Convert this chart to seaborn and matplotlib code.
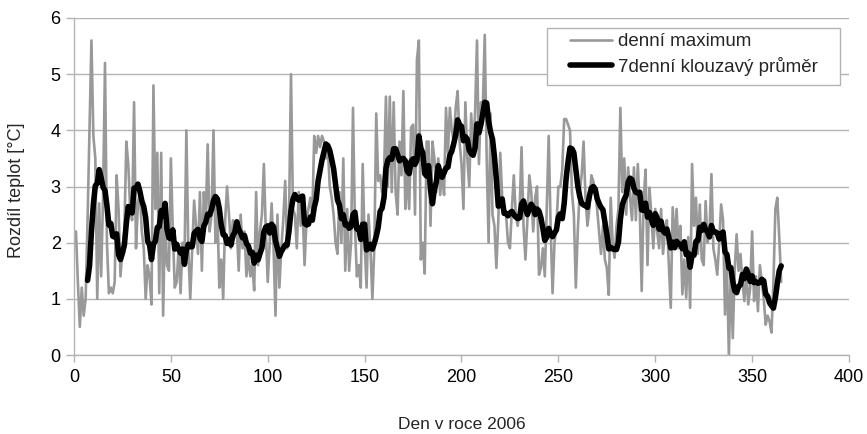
import numpy as np
import pandas as pd
import matplotlib
matplotlib.use("Agg")
import matplotlib.pyplot as plt
from matplotlib.patches import Rectangle
from matplotlib.legend_handler import HandlerLine2D
import seaborn as sns

# daily maximum temperature difference, days 1..365
daily_max = [
    2.2, 1.3, 0.5, 1.2, 0.7, 1.0, 2.4, 4.0, 5.6, 3.9,
    3.5, 1.0, 2.7, 1.4, 2.8, 5.2, 2.0, 1.1, 1.2, 1.1,
    1.3, 3.2, 2.6, 1.4, 1.9, 2.2, 3.8, 3.4, 2.6, 2.4,
    4.5, 1.9, 2.7, 2.9, 2.2, 1.9, 1.0, 1.6, 1.4, 0.9,
    4.8, 2.6, 3.6, 1.1, 3.6, 0.7, 2.5, 1.6, 1.5, 3.5,
    2.2, 1.2, 1.3, 1.9, 1.1, 2.0, 1.6, 4.0, 1.9, 1.0,
    1.9, 2.75, 2.3, 1.8, 2.9, 1.5, 2.9, 2.4, 3.75, 2.2,
    2.5, 4.0, 2.0, 2.6, 1.2, 1.7, 1.0, 2.4, 3.0, 2.5,
    1.9, 2.4, 2.1, 2.3, 1.5, 2.5, 1.9, 2.2, 1.4, 1.8,
    1.4, 1.6, 1.15, 2.9, 1.6, 2.2, 2.5, 3.4, 2.2, 1.3,
    2.0, 2.7, 1.9, 0.7, 2.5, 1.2, 1.9, 2.4, 3.1, 1.9,
    2.5, 5.0, 2.6, 2.5, 1.9, 2.9, 2.3, 2.6, 1.6, 2.4,
    2.6, 2.8, 2.5, 3.9, 3.6, 3.9, 3.7, 3.9, 3.8, 3.5,
    3.7, 3.0, 2.8, 2.5, 2.0, 1.8, 2.9, 2.0, 3.5, 1.5,
    2.6, 1.5, 2.0, 4.4, 2.3, 1.4, 1.6, 1.2, 3.4, 2.0,
    1.2, 2.5, 1.9, 1.0, 1.9, 4.3, 3.1, 3.2, 2.9, 3.2,
    4.6, 3.0, 4.6, 2.9, 4.5, 2.9, 2.5, 3.8, 3.2, 4.7,
    2.6, 3.2, 2.6, 4.05, 4.1, 2.5, 5.25, 5.6, 1.7, 2.0,
    1.45, 3.8, 3.8, 2.3, 3.8, 3.5, 2.9, 3.5, 2.85, 3.3,
    2.85, 4.4, 3.6, 4.4, 4.0, 3.8, 4.4, 4.7, 3.8, 3.4,
    2.6, 4.5, 3.5, 3.0, 4.3, 3.6, 4.3, 5.6, 3.4, 4.5,
    4.4, 5.7, 3.5, 2.0, 4.3, 2.5, 2.3, 1.55, 2.4, 3.6,
    2.8, 2.5, 2.5, 2.0, 1.9, 2.6, 3.2, 2.5, 2.3, 2.6,
    3.7, 2.3, 1.7, 2.4, 3.2, 2.9, 2.2, 2.8, 3.0, 1.43,
    1.55, 1.9, 1.4, 2.6, 3.9, 2.3, 1.1, 2.0, 2.3, 3.0,
    3.0, 3.3, 4.2, 4.2, 4.1, 4.0, 2.9, 2.5, 1.2, 2.2,
    2.9, 3.2, 3.8, 2.8, 2.3, 2.6, 3.2, 3.1, 2.9, 2.6,
    2.2, 1.8, 2.3, 1.7, 1.55, 1.07, 2.8, 2.0, 1.73, 2.3,
    2.6, 4.4, 2.9, 3.5, 2.5, 3.34, 2.8, 2.4, 3.34, 2.4,
    3.4, 2.6, 1.14, 2.74, 3.3, 1.6, 2.98, 2.5, 1.9, 2.6,
    2.2, 1.9, 2.6, 1.8, 2.2, 2.4, 1.6, 0.84, 2.63, 1.9,
    2.6, 1.9, 2.3, 1.08, 1.7, 1.02, 2.1, 0.84, 3.4, 2.3,
    2.8, 1.8, 2.68, 1.7, 1.6, 2.74, 2.0, 2.2, 3.22, 1.9,
    1.7, 1.43, 2.0, 2.68, 2.4, 0.72, 1.6, 0.0, 1.5, 0.3,
    1.5, 2.15, 1.5, 1.8, 1.3, 0.96, 1.5, 0.9, 1.2, 2.2,
    0.96, 1.4, 0.78, 1.6, 1.3, 1.0, 0.54, 0.7, 0.6, 0.4,
    1.3, 2.6, 2.8, 2.1, 1.3,
]
days = list(range(1, len(daily_max) + 1))

series_labels = ["denní maximum", "7denní klouzavý průměr"]
x_label = "Den v roce 2006"
y_label = "Rozdíl teplot [°C]"
x_ticks = [0, 50, 100, 150, 200, 250, 300, 350, 400]
y_ticks = [0, 1, 2, 3, 4, 5, 6]

df = pd.DataFrame({"day": days, "max": daily_max})
df["avg7"] = df["max"].rolling(7).mean()

sns.set_theme(style="white")
plt.rcParams["font.family"] = ["Liberation Sans", "DejaVu Sans"]

W, H = 867, 434
fig = plt.figure(figsize=(W / 100, H / 100), dpi=100)
ax = fig.add_axes([74 / W, 1 - 355 / H, 775 / W, 337 / H])

grid_c = "#b3b3b3"
ax.set_axisbelow(True)
ax.yaxis.grid(True, color=grid_c, linewidth=1.0)
ax.xaxis.grid(False)

sns.lineplot(data=df, x="day", y="max", ax=ax, color="#999999",
             linewidth=1.9, label=series_labels[0])
sns.lineplot(data=df.dropna(), x="day", y="avg7", ax=ax, color="#000000",
             linewidth=4.0, label=series_labels[1])

ax.set_xlim(0, 400)
ax.set_ylim(0, 6)
ax.set_xticks(x_ticks)
ax.set_yticks(y_ticks)
ax.tick_params(axis="x", labelsize=13, colors="#000000", length=5,
               width=1, direction="out", color=grid_c, pad=4.8, bottom=True)
ax.tick_params(axis="y", labelsize=13, colors="#000000", length=6,
               width=1, direction="out", color=grid_c, pad=3.6, left=True)
for s in ["top", "right"]:
    ax.spines[s].set_visible(False)
for s in ["left", "bottom"]:
    ax.spines[s].set_color(grid_c)
    ax.spines[s].set_linewidth(1.0)

ax.set_xlabel(x_label, fontsize=12.5)
ax.xaxis.set_label_coords(0.5, (355 - 417.0) / 337)
ax.set_ylabel(y_label, fontsize=13)
ax.yaxis.set_label_coords((25 - 74) / 775, 0.49)

# legend frame (drawn as a box in figure pixels)
lx0, ly0, lx1, ly1 = 547.3, 28.3, 839.5, 85.0
frame = Rectangle((lx0 / W, 1 - ly1 / H), (lx1 - lx0) / W, (ly1 - ly0) / H,
                  transform=fig.transFigure, facecolor="white",
                  edgecolor=grid_c, linewidth=1.0, zorder=6, clip_on=False)
ax.add_artist(frame)

fs = 13.5
leg = ax.legend(loc="upper left",
                bbox_to_anchor=((lx0 - 74) / 775, (355 - ly0) / 337),
                fontsize=fs, frameon=False, borderaxespad=0,
                handlelength=3.19, handletextpad=0.34, borderpad=0.25,
                labelspacing=0.35,
                handler_map={plt.Line2D: HandlerLine2D(xpad=0.95)})
leg.set_zorder(7)

fig.savefig("out.png", dpi=100)
